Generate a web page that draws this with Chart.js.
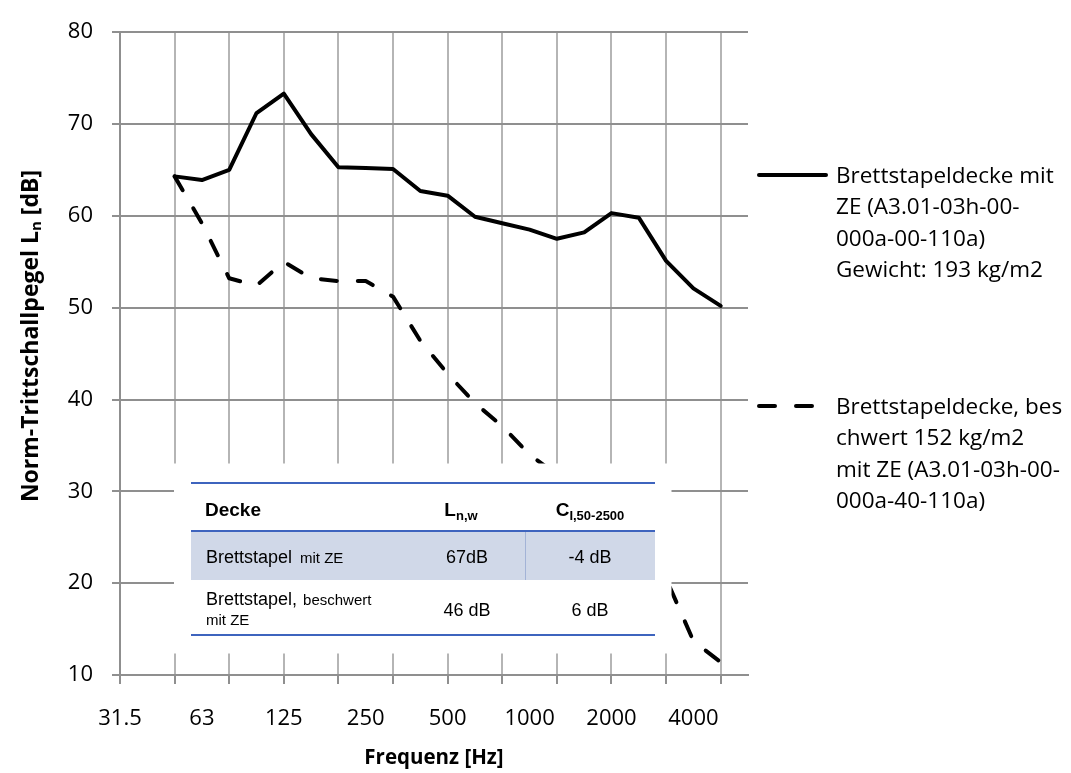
<!DOCTYPE html>
<html><head><meta charset="utf-8">
<script src="https://cdn.jsdelivr.net/npm/chart.js@4.4.1/dist/chart.umd.min.js"></script>
<style>html,body{margin:0;padding:0;background:#fff;}#wrap{width:1071px;height:773px;}</style>
</head><body><div id="wrap"><canvas id="c" width="1071" height="773"></canvas></div>
<script>
// ---- data ----
const categories = ["31.5","40","50","63","80","100","125","160","200","250","315","400","500","630","800","1000","1250","1600","2000","2500","3150","4000","5000","6300"];
const tickLabels = ["31.5","63","125","250","500","1000","2000","4000"];
const seriesSolid  = [null,null,64.3,63.9,65.0,71.2,73.3,68.9,65.3,65.2,65.1,62.7,62.2,59.9,59.2,58.5,57.5,58.2,60.3,59.8,55.1,52.1,50.2,null];
const seriesDashed = [null,null,64.3,59.2,53.2,52.4,55.0,53.2,52.9,52.9,51.2,46.4,42.8,39.6,37.1,34.0,31.8,29.4,26.8,23.9,20.5,13.7,11.4,null];
const legendSolid  = ["Brettstapeldecke mit","ZE (A3.01-03h-00-","000a-00-110a)","Gewicht: 193 kg/m2"];
const legendDashed = ["Brettstapeldecke, bes","chwert 152 kg/m2","mit ZE (A3.01-03h-00-","000a-40-110a)"];
const yTitle = ["Norm-Trittschallpegel L","n"," [dB]"];
const xTitle = "Frequenz [Hz]";
const tableHeader = [["Decke"],["L","n,w"],["C","I,50-2500"]];
const tableRow1 = [["Brettstapel","mit ZE"],"67dB","-4 dB"];
const tableRow2 = [["Brettstapel,","beschwert","mit ZE"],"46 dB","6 dB"];

const FONT = '"Open Sans", sans-serif';
const TFONT = '"Liberation Sans", Arial, sans-serif';
const DASH = [16, 21];

function rich(ctx, parts, x, y, align){
  let w = 0;
  parts.forEach(p => { ctx.font = p.font; w += (p.dx||0) + ctx.measureText(p.t).width; });
  let cx = align === 'center' ? x - w/2 : x;
  ctx.textAlign = 'left';
  parts.forEach(p => { ctx.font = p.font; cx += (p.dx||0); ctx.fillText(p.t, cx, y + (p.dy||0)); cx += ctx.measureText(p.t).width; });
}

const overlay = {
  id: 'overlay',
  afterDatasetsDraw(chart){
    const ctx = chart.ctx;
    ctx.save();
    ctx.fillStyle = '#ffffff';
    ctx.fillRect(174, 463.5, 497.5, 190);
    ctx.fillStyle = '#D0D8E8';
    ctx.fillRect(191, 531, 464, 49);
    ctx.strokeStyle = '#A3B3D6'; ctx.lineWidth = 1;
    ctx.beginPath(); ctx.moveTo(525.5, 531); ctx.lineTo(525.5, 580); ctx.stroke();
    ctx.strokeStyle = '#3E64BE'; ctx.lineWidth = 2;
    [483, 531, 635].forEach(y => { ctx.beginPath(); ctx.moveTo(191, y); ctx.lineTo(655, y); ctx.stroke(); });
    ctx.fillStyle = '#000'; ctx.textBaseline = 'alphabetic';
    const B = 'bold 19px ' + TFONT, Bs = 'bold 13px ' + TFONT, R = '18px ' + TFONT, Rs = '15px ' + TFONT;
    rich(ctx, [{t: tableHeader[0][0], font: B}], 205, 516, 'left');
    rich(ctx, [{t: tableHeader[1][0], font: B}, {t: tableHeader[1][1], font: Bs, dy: 4}], 461, 516, 'center');
    rich(ctx, [{t: tableHeader[2][0], font: B}, {t: tableHeader[2][1], font: Bs, dy: 4}], 590, 516, 'center');
    rich(ctx, [{t: tableRow1[0][0], font: R}, {t: tableRow1[0][1], font: Rs, dx: 8}], 206, 563, 'left');
    rich(ctx, [{t: tableRow1[1], font: R}], 467, 563, 'center');
    rich(ctx, [{t: tableRow1[2], font: R}], 590, 563, 'center');
    rich(ctx, [{t: tableRow2[0][0], font: R}, {t: tableRow2[0][1], font: Rs, dx: 6}], 206, 605, 'left');
    rich(ctx, [{t: tableRow2[0][2], font: Rs}], 206, 625, 'left');
    rich(ctx, [{t: tableRow2[1], font: R}], 467, 616, 'center');
    rich(ctx, [{t: tableRow2[2], font: R}], 590, 616, 'center');
    ctx.restore();
  },
  afterDraw(chart){
    const ctx = chart.ctx;
    ctx.save();
    const ds = chart.data.datasets;
    const entries = [[ds[0], legendSolid, 175], [ds[1], legendDashed, 406]];
    entries.forEach(([d, lines, y]) => {
      ctx.strokeStyle = d.borderColor; ctx.lineWidth = d.borderWidth; ctx.lineCap = 'round';
      ctx.setLineDash(d.borderDash || []);
      ctx.beginPath(); ctx.moveTo(759, y); ctx.lineTo(826, y); ctx.stroke();
      ctx.setLineDash([]);
      ctx.fillStyle = '#000'; ctx.font = '22.5px ' + FONT; ctx.textBaseline = 'middle'; ctx.textAlign = 'left';
      lines.forEach((t, i) => ctx.fillText(t, 836, y + 1.5 + i * 31.4));
    });
    ctx.translate(31, 336);
    ctx.rotate(-Math.PI / 2);
    ctx.textBaseline = 'middle'; ctx.fillStyle = '#000';
    rich(ctx, [{t: yTitle[0], font: 'bold 23px ' + FONT}, {t: yTitle[1], font: 'bold 15px ' + FONT, dy: 6}, {t: yTitle[2], font: 'bold 23px ' + FONT}], 0, 0, 'center');
    ctx.restore();
  }
};

new Chart(document.getElementById('c'), {
  type: 'line',
  data: {
    labels: categories,
    datasets: [
      {label: legendSolid.join(' '), data: seriesSolid, borderColor: '#000', borderWidth: 4, pointRadius: 0, tension: 0, fill: false, borderJoinStyle: 'round', borderCapStyle: 'round'},
      {label: legendDashed.join(' '), data: seriesDashed, borderColor: '#000', borderWidth: 4, borderDash: DASH, pointRadius: 0, tension: 0, fill: false, borderJoinStyle: 'round', borderCapStyle: 'round'}
    ]
  },
  options: {
    responsive: false, animation: false, devicePixelRatio: 1,
    layout: {padding: {left: 0, right: 323, top: 27, bottom: 0}},
    plugins: {legend: {display: false}, tooltip: {enabled: false}},
    scales: {
      x: {
        offset: false,
        grid: {offset: false, lineWidth: 2, tickLength: 9,
          color: c => (c.index % 2 === 0 ? '#b5b5b5' : 'rgba(0,0,0,0)'),
          tickColor: c => (c.index % 2 === 0 ? '#8f8f8f' : 'rgba(0,0,0,0)')},
        border: {color: '#8f8f8f', width: 2},
        ticks: {autoSkip: false, maxRotation: 0, minRotation: 0, padding: 22, color: '#000', font: {family: FONT, size: 22},
          callback: (v, i) => (tickLabels.includes(categories[i]) ? categories[i] : '')},
        title: {display: true, text: xTitle, color: '#000', font: {family: FONT, size: 20.5, weight: 'bold'}, padding: {top: 0, bottom: 3}},
        afterFit: s => { s.height = 98; }
      },
      y: {
        min: 10, max: 80,
        ticks: {stepSize: 10, padding: 19, color: '#000', font: {family: FONT, size: 22}},
        grid: {color: '#8f8f8f', lineWidth: 2, tickLength: 8, tickColor: '#8f8f8f'},
        border: {color: '#8f8f8f', width: 2},
        afterFit: s => { s.width = 120; }
      }
    }
  },
  plugins: [overlay]
});
</script></body></html>
